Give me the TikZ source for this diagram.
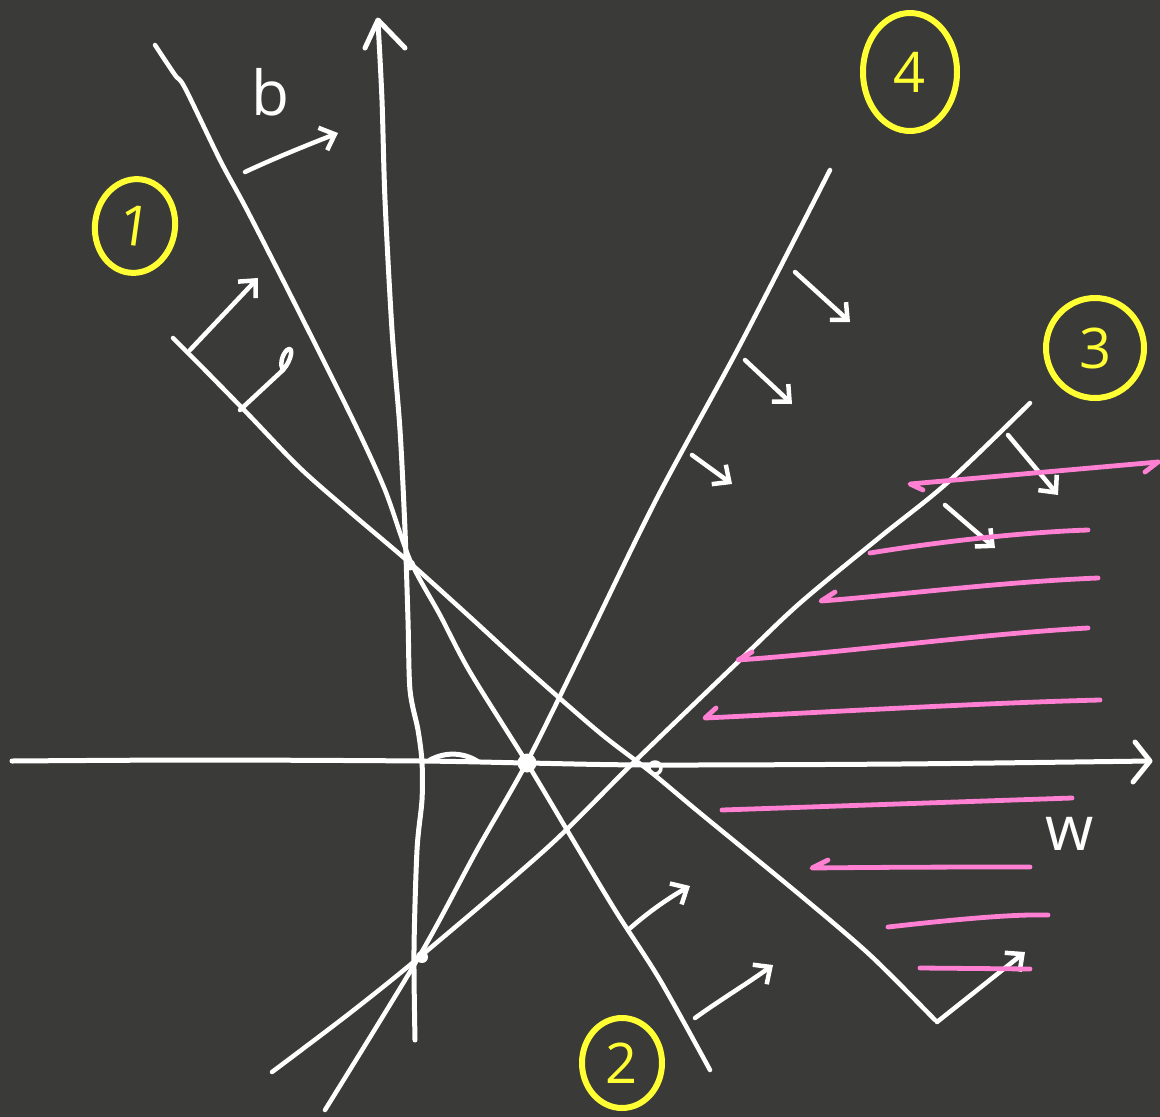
\documentclass[tikz,border=0pt]{standalone}
\usepackage{fontspec}
\setmainfont{Open Sans}
\usetikzlibrary{arrows.meta,shapes.geometric}
\definecolor{bg}{HTML}{3A3A38}
\definecolor{pinkink}{HTML}{FF80D2}
\definecolor{yellowink}{HTML}{FFFF33}
\begin{document}
\begin{tikzpicture}[x=1pt,y=-1pt,line cap=round,line join=round,
  axisline/.style={draw=white,line width=5pt},
  chalk/.style={draw=white,line width=4.5pt},
  tipped/.style={-{Straight Barb[length=13pt,width=24pt,line width=4.5pt]}},
  pinkline/.style={draw=pinkink,line width=4.8pt},
  circled/.style={draw=yellowink,line width=6pt,ellipse,text=yellowink,inner sep=0pt,
    font=\fontsize{56}{56}\selectfont},
  label/.style={text=white,font=\fontsize{62}{62}\selectfont,inner sep=0pt},
  dot/.style={fill=white,circle,inner sep=0pt}]
\useasboundingbox (0,0) rectangle (1160,1117);
\fill[bg] (0,0) rectangle (1160,1117);

% axes
\coordinate (xs) at (12,760);
\coordinate (xe) at (1150,761);
\draw[axisline] plot[smooth] coordinates {(12,761) (200,760) (420,761) (527,763) (652,765) (900,764) (1150,761)};
\draw[axisline] (1135,742) -- (xe) -- (1133,782);
\draw[axisline] (430,760) .. controls (445,752) and (462,752) .. (477,761);
\coordinate (ye) at (378,20);
\draw[axisline] plot[smooth] coordinates {(415,1040) (414,950) (417,850) (422,800) (422,762) (418,730) (410,690) (408,620) (405,530) (400,430) (392,330) (385,200) (382,100) (378,22)};
\draw[axisline] (365,48) -- (ye) -- (405,48);

% line A (hyperplane 2)
\draw[chalk] plot[smooth] coordinates {(155,45) (175,75) (185,88) (220,160) (247,210) (293,300) (353,420) (385,490) (410,560) (440,615) (470,672) (527,763) (570,835) (615,910) (660,980) (710,1070)};
% line B (hyperplane 1)
\draw[chalk] plot[smooth] coordinates {(173,338) (200,365) (247,413) (300,468) (350,512) (410,563) (470,617) (530,672) (600,733) (652,773) (700,813) (800,895) (870,955) (935,1020)};
% line 4
\draw[chalk] plot[smooth] coordinates {(830,170) (740,345) (657,498) (585,645) (527,762) (477,850) (420,955) (325,1110)};
% line 3
\draw[chalk] plot[smooth] coordinates {(1030,403) (947,483) (880,537) (800,603) (740,660) (633,763) (547,848) (422,955) (350,1013) (272,1072)};

% intersection dots
\node[dot,minimum size=19pt] (p0) at (527,763) {};
\node[dot,minimum size=11pt] (p1) at (410,565) {};
\node[dot,minimum size=12pt] (p2) at (422,957) {};
\node[draw=white,line width=3.5pt,circle,minimum size=12pt,inner sep=0pt] (p3) at (655,768) {};

% normal arrows
\draw[chalk,tipped] (245,172) .. controls (275,158) and (305,146) .. (338,133);
\draw[chalk,tipped] (190,350) -- (258,278);
\draw[chalk] (240,410) -- (283,370);
\draw[chalk] (283,370) .. controls (292,360) and (294,345) .. (287,350) .. controls (281,356) and (280,366) .. (283,370);
\draw[chalk,tipped] (628,930) .. controls (645,915) and (665,900) .. (690,886);
\draw[chalk,tipped] (695,1018) .. controls (720,1000) and (745,985) .. (773,965);
\draw[chalk,tipped] (937,1022) -- (1025,952);
\draw[chalk,tipped] (795,272) -- (850,322);
\draw[chalk,tipped] (745,360) -- (792,404);
\draw[chalk,tipped] (692,455) -- (732,484);
\draw[chalk,tipped] (1008,435) -- (1058,495);
\draw[chalk,tipped] (945,505) -- (995,548);

% pink hatching
\draw[pinkline] (923,490) -- (910,484) -- (1158,462);
\draw[pinkline] (1145,472) -- (1158,462);
\draw[pinkline] (870,553) .. controls (950,540) and (1030,532) .. (1088,530);
\draw[pinkline] (835,592) -- (821,601) .. controls (900,595) and (1000,582) .. (1098,578);
\draw[pinkline] (752,652) -- (738,660) .. controls (850,652) and (980,634) .. (1088,628);
\draw[pinkline] (716,708) -- (705,718) .. controls (830,712) and (980,703) .. (1100,700);
\draw[pinkline] (722,810) -- (1072,798);
\draw[pinkline] (828,860) -- (812,868) .. controls (900,867) and (980,867) .. (1030,867);
\draw[pinkline] (888,927) .. controls (950,920) and (1010,914) .. (1048,915);
\draw[pinkline] (920,968) -- (1030,969);

% circled numbers
\node[circled,minimum width=80pt,minimum height=94pt,rotate=-8] (c1) at (135,226) {1};
\node[circled,minimum width=80pt,minimum height=90pt] (c2) at (622,1063) {2};
\node[circled,minimum width=98pt,minimum height=100pt] (c3) at (1095,348) {3};
\node[circled,minimum width=94pt,minimum height=118pt] (c4) at (910,72) {4};

% labels
\node[label] (lb) at (270,92) {b};
\node[label] (lw) at (1070,834) {w};
\end{tikzpicture}
\end{document}
